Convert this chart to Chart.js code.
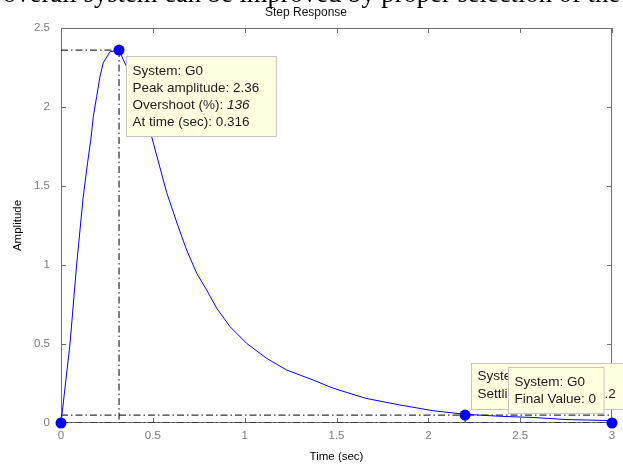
<!DOCTYPE html>
<html>
<head>
<meta charset="utf-8">
<title>Step Response</title>
<script src="https://cdn.jsdelivr.net/npm/chart.js@4.4.1/dist/chart.umd.min.js"></script>
<style>
  html, body { margin: 0; padding: 0; background: #fff; overflow: hidden; }
  #wrap { position: relative; width: 623px; height: 465px; overflow: hidden; }
  #chart { display: block; }
  #caption {
    position: absolute; left: 3px; top: -18px; color: #000; white-space: nowrap;
    font-family: "Liberation Serif", "Times New Roman", serif; font-size: 22px; line-height: 22px;
  }
</style>
</head>
<body>
<div id="wrap">
  <canvas id="chart" width="623" height="465"></canvas>
  <div id="caption">overall system can be improved by proper selection of the</div>
</div>
<script>
// Step response of G0.
const timeSec = [0, 0.049, 0.085, 0.12, 0.145, 0.162, 0.176, 0.194, 0.212, 0.23, 0.267, 0.316, 0.339,
  0.4, 0.45, 0.494, 0.575, 0.639, 0.684, 0.739, 0.793, 0.848, 0.92, 1.011, 1.12, 1.229, 1.373, 1.482,
  1.66, 1.845, 2.025, 2.2, 2.4, 2.57, 2.75, 3.0];
const amplitude = [0, 0.5, 1.0, 1.42, 1.65, 1.79, 1.94, 2.065, 2.19, 2.28, 2.35, 2.36, 2.3,
  2.15, 1.99, 1.81, 1.46, 1.24, 1.095, 0.947, 0.842, 0.726, 0.61, 0.504, 0.409, 0.335, 0.272, 0.22,
  0.156, 0.114, 0.078, 0.055, 0.042, 0.035, 0.022, 0.015];
const xTicks = [0, 0.5, 1, 1.5, 2, 2.5, 3];
const yTicks = [0, 0.5, 1, 1.5, 2, 2.5];

// characteristics shown in the data tips
const peakTime = 0.316;
const peakAmp = 2.36;
const overshootPct = 136;
const settleTime = 2.2;
const settleBand = 0.05;
const finalTime = 3;
const finalValue = 0;

const FONT = '"Liberation Sans", Arial, sans-serif';
const BLUE = "#0000ff";
const DASH_DOT = [7, 3, 1.5, 3];

function fitCaption() {
  const el = document.getElementById("caption");
  const size = 22 * 617 / el.offsetWidth;
  el.style.fontSize = size + "px";
}
fitCaption();

function pts(xs, ys) {
  return xs.map((x, i) => ({ x, y: ys[i] }));
}
function refLine(data) {
  return { data, showLine: true, borderColor: "#000", borderWidth: 1, borderDash: DASH_DOT, pointRadius: 0 };
}

// axes box with inward ticks, MATLAB style
const boxFrame = {
  id: "boxFrame",
  beforeDatasetsDraw(chart) {
    const { ctx, chartArea: a, scales } = chart;
    const len = 5;
    ctx.save();
    ctx.strokeStyle = "#6f6f6f";
    ctx.lineWidth = 1;
    ctx.strokeRect(a.left + 0.5, a.top + 0.5, a.right - a.left - 1, a.bottom - a.top - 1);
    ctx.beginPath();
    scales.x.ticks.forEach((t) => {
      const px = Math.round(scales.x.getPixelForValue(t.value)) + 0.5;
      ctx.moveTo(px, a.bottom); ctx.lineTo(px, a.bottom - len);
      ctx.moveTo(px, a.top); ctx.lineTo(px, a.top + len);
    });
    scales.y.ticks.forEach((t) => {
      const py = Math.round(scales.y.getPixelForValue(t.value)) + 0.5;
      ctx.moveTo(a.left, py); ctx.lineTo(a.left + len, py);
      ctx.moveTo(a.right, py); ctx.lineTo(a.right - len, py);
    });
    ctx.stroke();
    ctx.restore();
  },
};

function drawTip(ctx, box, lines, opts) {
  const size = 13.5;
  ctx.save();
  let w = 0;
  lines.forEach((segs) => {
    let lw = 0;
    segs.forEach((s) => {
      ctx.font = (s.italic ? "italic " : "") + size + "px " + FONT;
      lw += ctx.measureText(s.text).width;
    });
    w = Math.max(w, lw);
  });
  const width = w + 6 + opts.padRight;
  const height = opts.height;
  let left = box.x, top = box.y;
  if (opts.anchorRight) left = box.x - width;
  if (opts.anchorBottom) top = box.y - height;
  left = Math.round(left) + 0.5;
  top = Math.round(top) + 0.5;
  ctx.fillStyle = "#ffffe1";
  ctx.strokeStyle = "#c4c4c4";
  ctx.fillRect(left, top, width, height);
  ctx.strokeRect(left, top, width, height);
  ctx.fillStyle = "#1a1a1a";
  ctx.textBaseline = "middle";
  lines.forEach((segs, i) => {
    let x = left + 6;
    const y = top + opts.first + i * opts.step;
    segs.forEach((s) => {
      ctx.font = (s.italic ? "italic " : "") + size + "px " + FONT;
      ctx.fillText(s.text, x, y);
      x += ctx.measureText(s.text).width;
    });
  });
  ctx.restore();
}

const dataTips = {
  id: "dataTips",
  afterDraw(chart) {
    const { ctx, scales: { x, y } } = chart;
    drawTip(ctx, { x: x.getPixelForValue(peakTime) + 7, y: y.getPixelForValue(peakAmp) + 6 }, [
      [{ text: "System: G0" }],
      [{ text: "Peak amplitude: " + peakAmp }],
      [{ text: "Overshoot (%): " }, { text: String(overshootPct), italic: true }],
      [{ text: "At time (sec): " + peakTime }],
    ], { padRight: 17, height: 80, first: 15, step: 16.8 });
    drawTip(ctx, { x: x.getPixelForValue(settleTime) + 6, y: y.getPixelForValue(settleBand) - 6 }, [
      [{ text: "System: G0" }],
      [{ text: "Settling Time (sec): " + settleTime }],
    ], { padRight: 10, height: 46, first: 13, step: 18, anchorBottom: true });
    drawTip(ctx, { x: x.getPixelForValue(finalTime) - 8, y: y.getPixelForValue(finalValue) - 10 }, [
      [{ text: "System: G0" }],
      [{ text: "Final Value: " + finalValue }],
    ], { padRight: 8, height: 46, first: 15, step: 17, anchorRight: true, anchorBottom: true });
  },
};

const tickStyle = { color: "#7a7a7a", font: { family: FONT, size: 11.5 } };

new Chart(document.getElementById("chart"), {
  type: "scatter",
  data: {
    datasets: [
      {
        data: [{ x: 0, y: 0 }, { x: peakTime, y: peakAmp }, { x: settleTime, y: settleBand }, { x: finalTime, y: finalValue }],
        pointRadius: 5.5, pointBackgroundColor: BLUE, pointBorderColor: BLUE, borderWidth: 0, clip: false,
      },
      { data: pts(timeSec, amplitude), showLine: true, borderColor: BLUE, borderWidth: 1, pointRadius: 0, tension: 0 },
      refLine([{ x: 0, y: peakAmp }, { x: peakTime, y: peakAmp }, { x: peakTime, y: 0 }]),
      refLine([{ x: 0, y: settleBand }, { x: finalTime, y: settleBand }]),
      refLine([{ x: settleTime, y: settleBand }, { x: settleTime, y: 0 }]),
      refLine([{ x: 0, y: finalValue }, { x: finalTime, y: finalValue }]),
    ],
  },
  options: {
    responsive: false,
    animation: false,
    events: [],
    layout: { padding: { left: 0, right: 11, top: 0, bottom: 0 } },
    plugins: {
      legend: { display: false },
      tooltip: { enabled: false },
      title: {
        display: true, text: "Step Response", color: "#111",
        font: { family: FONT, size: 12, weight: "normal" }, padding: { top: 5, bottom: 8.6 },
      },
    },
    scales: {
      x: {
        type: "linear", min: 0, max: 3,
        grid: { display: false, drawTicks: false }, border: { display: false },
        ticks: { ...tickStyle, padding: 6, callback: (v) => String(v) },
        afterBuildTicks: (s) => { s.ticks = xTicks.map((v) => ({ value: v })); },
        afterFit: (s) => { s.height = 42; },
        title: { display: true, text: "Time (sec)", color: "#000", font: { family: FONT, size: 11.5 }, padding: { top: 0, bottom: 1 } },
      },
      y: {
        type: "linear", min: 0, max: 2.5,
        grid: { display: false, drawTicks: false }, border: { display: false },
        ticks: { ...tickStyle, padding: 11, callback: (v) => String(v) },
        afterBuildTicks: (s) => { s.ticks = yTicks.map((v) => ({ value: v })); },
        afterFit: (s) => { s.width = 61; },
        title: { display: true, text: "Amplitude", color: "#000", font: { family: FONT, size: 11.5 }, padding: { top: 11, bottom: 0 } },
      },
    },
  },
  plugins: [boxFrame, dataTips],
});
</script>
</body>
</html>
